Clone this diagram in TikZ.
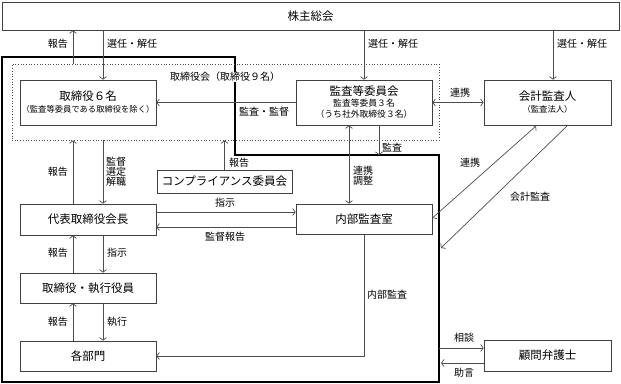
\documentclass[tikz,border=0pt]{standalone}
\usepackage{fontspec}
\setmainfont{Noto Sans CJK JP}
\usetikzlibrary{arrows.meta,calc}
\newcommand\smalltext{\fontsize{8.3}{10}\selectfont}
\newcommand\midtext{\fontsize{8.8}{10}\selectfont}
\tikzset{
 unit/.style={draw=black!75,line width=.7pt,fill=white,inner sep=0,align=center,font=\fontsize{11.5}{13}\selectfont},
 board/.style={draw=black!70,line width=.7pt,dotted,inner sep=0},
 frame/.style={line width=1.6pt},
 link/.style={draw=black!70,line width=.7pt,-{Straight Barb[length=2.6pt,width=7pt]}},
 twoway/.style={draw=black!70,line width=.7pt,{Straight Barb[length=2.6pt,width=7pt]}-{Straight Barb[length=2.6pt,width=7pt]}},
 tag/.style={inner sep=1pt,align=center,font=\fontsize{10}{12}\selectfont}
}

\begin{document}
\begin{tikzpicture}[x=1pt,y=-1pt]
\path[use as bounding box] (0,0) rectangle (621,383);
% outline of the executing side
\draw[frame] (2,57) -- (235,57) -- (235,155) -- (439,155) -- (439,382) -- (2,382) -- cycle;
% boxes
\node[unit,minimum width=617pt,minimum height=28pt] (meeting) at (310.5,16) {株主総会};
\node[board,minimum width=427pt,minimum height=76pt] (boardmeet) at (225.5,102) {};
\node[tag,fill=white,inner sep=0pt] (boardname) at (225,77) {取締役会（取締役９名）};
\node[unit,minimum width=136pt,minimum height=45pt] (directors) at (88,102.5)
 {取締役６名\\[-1pt]{\smalltext（監査等委員である取締役を除く）}};
\node[unit,minimum width=136pt,minimum height=45pt] (auditcomm) at (364,102.5)
 {監査等委員会\\[-2pt]{\midtext 監査等委員３名}\\[-2pt]{\midtext（うち社外取締役３名）}};
\node[unit,minimum width=127pt,minimum height=45pt] (accountant) at (547.5,102.5)
 {会計監査人\\[-1pt]{\smalltext（監査法人）}};
\node[unit,minimum width=135pt,minimum height=23pt] (compliance) at (224.5,181.5) {コンプライアンス委員会};
\node[unit,minimum width=136pt,minimum height=31pt] (chairman) at (88,219.5) {代表取締役会長};
\node[unit,minimum width=136pt,minimum height=30pt] (internal) at (364,219) {内部監査室};
\node[unit,minimum width=136pt,minimum height=30pt] (officers) at (88,288) {取締役・執行役員};
\node[unit,minimum width=136pt,minimum height=30pt] (sections) at (88,356) {各部門};
\node[unit,minimum width=127pt,minimum height=31pt] (lawyer) at (547.5,355.5) {顧問弁護士};
\coordinate (up) at (73,0);
\coordinate (down) at (103,0);
\coordinate (accx) at (553,0);
\coordinate (coopx) at (349,0);
\coordinate (coopy) at (0,218);
\coordinate (auditx) at (379,155);
\coordinate (accin) at (441,248);
\coordinate (askout) at (439,348);
\coordinate (advin) at (441,363);
\coordinate (ordery) at (0,212);
\coordinate (reporty) at (0,227);
\coordinate (acclink) at (536,126);
\coordinate (accaudit) at (567,126);
% meeting of shareholders
\draw[link] (boardmeet.north -| up) -- (meeting.south -| up);
\node[tag,anchor=east] (rep1) at (69,44) {報告};
\draw[link] (meeting.south -| down) -- (directors.north -| down);
\node[tag,anchor=west] (sel1) at (106,44) {選任・解任};
\draw[link] (meeting.south -| auditcomm) -- (auditcomm.north);
\node[tag,anchor=west] (sel2) at (367,44) {選任・解任};
\draw[link] (meeting.south -| accx) -- (accountant.north -| accx);
\node[tag,anchor=west] (sel3) at (556,44) {選任・解任};
% audit committee
\draw[link] (auditcomm.west) -- (directors.east);
\node[tag,anchor=west] (supv) at (238,112) {監査・監督};
\draw[twoway] (auditcomm.east) -- (accountant.west);
\node[tag] (coop1) at (460,93) {連携};
\draw[twoway] (auditcomm.south -| coopx) -- (internal.north -| coopx);
\node[tag,anchor=north west] (coop2) at (352,165) {連携\\[-2pt]調整};
\draw[link] (auditcomm.south -| auditx) -- (auditx);
\node[tag,anchor=west] (audit1) at (381,148) {監査};
% accounting auditor
\draw[twoway] (acclink) -- (internal.east |- coopy);
\node[tag] (coop3) at (470,163) {連携};
\draw[link] (accaudit) -- (accin);
\node[tag] (audit2) at (530,197) {会計監査};
% board and chairman
\draw[link] (chairman.north -| up) -- (boardmeet.south -| up);
\node[tag,anchor=east] (rep2) at (69,172) {報告};
\draw[link] (boardmeet.south -| down) -- (chairman.north -| down);
\node[tag,anchor=west] (elect) at (105,172) {監督\\[-2pt]選定\\[-2pt]解職};
\draw[link] (compliance.north) -- (boardmeet.south -| compliance.north);
\node[tag,anchor=west] (rep3) at (228,163) {報告};
\draw[link] (chairman.east |- ordery) -- (internal.west |- ordery);
\node[tag] (order1) at (225,203) {指示};
\draw[link] (internal.west |- reporty) -- (chairman.east |- reporty);
\node[tag] (report4) at (225,237) {監督報告};
% chain of execution
\draw[link] (officers.north -| up) -- (chairman.south -| up);
\node[tag,anchor=east] (rep5) at (69,253) {報告};
\draw[link] (chairman.south -| down) -- (officers.north -| down);
\node[tag,anchor=west] (order2) at (106,253) {指示};
\draw[link] (sections.north -| up) -- (officers.south -| up);
\node[tag,anchor=east] (rep6) at (69,322) {報告};
\draw[link] (officers.south -| down) -- (sections.north -| down);
\node[tag,anchor=west] (exec) at (106,322) {執行};
\draw[link] (internal.south) |- (sections.east);
\node[tag,anchor=west] (intaudit) at (366,295) {内部監査};
% lawyer
\draw[link] (askout) -- (lawyer.west |- askout);
\node[tag] (consult) at (464,338) {相談};
\draw[link] (lawyer.west |- advin) -- (advin);
\node[tag] (advice) at (464,373) {助言};
\end{tikzpicture}
\end{document}
